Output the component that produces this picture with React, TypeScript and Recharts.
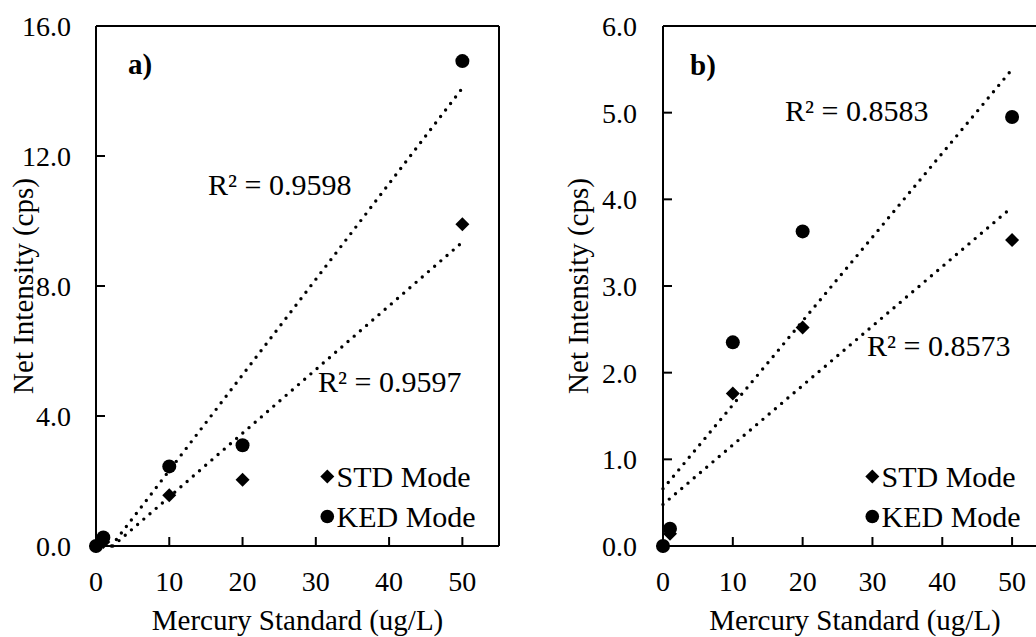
import {
  ComposedChart, Scatter, Line, XAxis, YAxis, ReferenceLine, Legend,
} from "recharts";

// mercury standard concentrations (ug/L)
const concentrations = [0, 1, 10, 20, 50];

// panel a) net intensity (cps)
const stdA = [0, 0.12, 1.56, 2.04, 9.9];
const kedA = [0, 0.26, 2.45, 3.1, 14.92];
// panel b) net intensity (cps)
const stdB = [0, 0.14, 1.76, 2.52, 3.53];
const kedB = [0, 0.2, 2.35, 3.63, 4.95];

// linear trendline ends as drawn (clipped at 0)
const stdTrendA = [{ x: 2.3, y: 0 }, { x: 50, y: 9.35 }];
const kedTrendA = [{ x: 2.1, y: 0 }, { x: 50, y: 14.09 }];
const stdTrendB = [{ x: 0, y: 0.48 }, { x: 50, y: 3.91 }];
const kedTrendB = [{ x: 0, y: 0.66 }, { x: 50, y: 5.5 }];

const xTicks = [0, 10, 20, 30, 40, 50];
const yTicksA = [0, 4, 8, 12, 16];
const yTicksB = [0, 1, 2, 3, 4, 5, 6];

const legendOrder = ["STD Mode", "KED Mode"];

const FONT = "'Liberation Serif', 'Times New Roman', serif";

const toPoints = (ys: number[]) => concentrations.map((x, i) => ({ x, y: ys[i] }));

const Diamond = (p: any) => {
  const { cx, cy } = p;
  if (cx == null || cy == null) return null;
  const s = 7;
  return <polygon points={`${cx},${cy - s} ${cx + s},${cy} ${cx},${cy + s} ${cx - s},${cy}`} fill="#000" />;
};
const Dot = (p: any) => {
  const { cx, cy } = p;
  if (cx == null || cy == null) return null;
  return <circle cx={cx} cy={cy} r={7} fill="#000" />;
};

const LegendBox = ({ payload }: any) => {
  const items = (payload || [])
    .filter((e: any) => e.type !== "none")
    .sort((a: any, b: any) => legendOrder.indexOf(a.value) - legendOrder.indexOf(b.value));
  return (
    <svg width={190} height={90} style={{ overflow: "visible" }}>
      {items.map((e: any, i: number) => {
        const cy = 20.5 + i * 40;
        return (
          <g key={e.value}>
            {e.type === "diamond" ? (
              <polygon points={`9.3,${cy - 7} 16.3,${cy} 9.3,${cy + 7} 2.3,${cy}`} fill="#000" />
            ) : (
              <circle cx={9.3} cy={cy} r={6.8} fill="#000" />
            )}
            <text x={18.5} y={cy + 10.5} fontFamily={FONT} fontSize={30} fill="#000">{e.value}</text>
          </g>
        );
      })}
    </svg>
  );
};

type PanelProps = {
  std: number[];
  ked: number[];
  stdTrend: { x: number; y: number }[];
  kedTrend: { x: number; y: number }[];
  yMax: number;
  yTicks: number[];
  yAxisWidth: number;
  rightMargin: number;
  width: number;
  yTickMargin: number;
  yLabelOffset: number;
  legendLeft: number;
};

function Panel(p: PanelProps) {
  const tickStyle = { fontFamily: FONT, fontSize: 28, fill: "#000" };
  const dotted = { stroke: "#000", strokeWidth: 3.4, strokeDasharray: "0 8.2", strokeLinecap: "round" as const };
  return (
    <ComposedChart
      width={p.width}
      height={637}
      margin={{ top: 26, right: p.rightMargin, left: 0, bottom: 0 }}
      style={{ fontFamily: FONT }}
    >
      <XAxis
        type="number"
        dataKey="x"
        domain={[0, 55]}
        ticks={xTicks}
        interval={0}
        height={91}
        tick={tickStyle}
        tickSize={-9}
        tickMargin={34}
        axisLine={{ stroke: "#000", strokeWidth: 2 }}
        tickLine={{ stroke: "#000", strokeWidth: 2 }}
        label={{ value: "Mercury Standard (ug/L)", position: "insideBottom", offset: 7, fontFamily: FONT, fontSize: 29, fill: "#000" }}
      />
      <YAxis
        type="number"
        dataKey="y"
        domain={[0, p.yMax]}
        ticks={p.yTicks}
        interval={0}
        width={p.yAxisWidth}
        tick={tickStyle}
        tickFormatter={(v: number) => v.toFixed(1)}
        tickSize={-9}
        tickMargin={p.yTickMargin}
        axisLine={{ stroke: "#000", strokeWidth: 2 }}
        tickLine={{ stroke: "#000", strokeWidth: 2 }}
        label={{
          value: "Net Intensity (cps)", angle: -90, position: "insideLeft", offset: p.yLabelOffset,
          style: { textAnchor: "middle" }, fontFamily: FONT, fontSize: 29, fill: "#000",
        }}
      />
      <ReferenceLine y={p.yMax} stroke="#000" strokeWidth={2} />
      <ReferenceLine x={55} stroke="#000" strokeWidth={2} />
      <Line data={p.kedTrend} dataKey="y" dot={false} legendType="none" isAnimationActive={false} {...dotted} />
      <Line data={p.stdTrend} dataKey="y" dot={false} legendType="none" isAnimationActive={false} {...dotted} />
      <Scatter name="STD Mode" data={toPoints(p.std)} shape={Diamond} legendType="diamond" isAnimationActive={false} />
      <Scatter name="KED Mode" data={toPoints(p.ked)} shape={Dot} legendType="circle" isAnimationActive={false} />
      <Legend
        layout="vertical"
        align="center"
        verticalAlign="middle"
        content={LegendBox}
        wrapperStyle={{ left: p.legendLeft, top: 456, width: 190, height: 90 }}
      />
    </ComposedChart>
  );
}

export default function App() {
  const txt = { fontFamily: FONT, fill: "#000" };
  return (
    <div style={{ position: "absolute", left: 0, top: 0, width: 1036, height: 637, overflow: "hidden", background: "#fff" }}>
      <div style={{ position: "absolute", left: 0, top: 0 }}>
        <Panel std={stdA} ked={kedA} stdTrend={stdTrendA} kedTrend={kedTrendA} yMax={16} yTicks={yTicksA}
          yAxisWidth={96} rightMargin={21} width={520} yTickMargin={34} yLabelOffset={23} legendLeft={318} />
      </div>
      <div style={{ position: "absolute", left: 520, top: 0 }}>
        <Panel std={stdB} ked={kedB} stdTrend={stdTrendB} kedTrend={kedTrendB} yMax={6} yTicks={yTicksB}
          yAxisWidth={143} rightMargin={13} width={540} yTickMargin={35} yLabelOffset={58} legendLeft={343} />
      </div>
      <svg width={1036} height={637} style={{ position: "absolute", left: 0, top: 0, pointerEvents: "none" }}>
        <text x={128} y={74} fontSize={29} fontWeight="bold" {...txt}>a)</text>
        <text x={690} y={75} fontSize={29} fontWeight="bold" {...txt}>b)</text>
        <text x={208} y={195} fontSize={30} {...txt}>R² = 0.9598</text>
        <text x={318} y={392} fontSize={30} {...txt}>R² = 0.9597</text>
        <text x={785} y={121} fontSize={30} {...txt}>R² = 0.8583</text>
        <text x={867} y={356} fontSize={30} {...txt}>R² = 0.8573</text>
      </svg>
    </div>
  );
}
